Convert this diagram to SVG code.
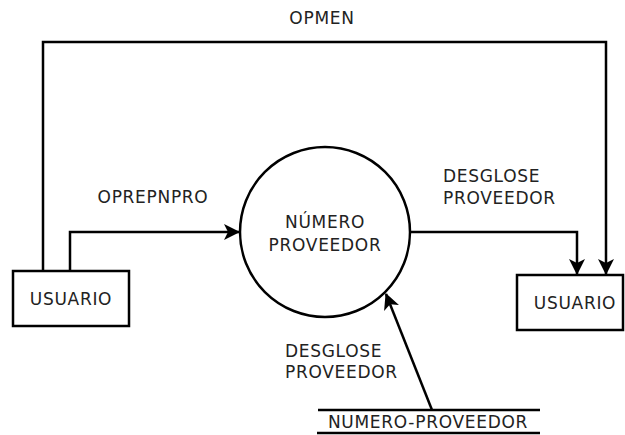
<svg xmlns="http://www.w3.org/2000/svg" width="625" height="435" viewBox="0 0 625 435">
  <style>
    .box { fill: #fff; stroke: #000; stroke-width: 2.5; }
    .flow { fill: none; stroke: #000; stroke-width: 2.5; }
    .lbl { font-family: "DejaVu Sans", Verdana, sans-serif; font-size: 17px; letter-spacing: 0.7px; fill: #222; }
    .mid { text-anchor: middle; }
  </style>
  <defs>
    <marker id="arrow" viewBox="0 0 16 16" refX="15" refY="8" markerWidth="16" markerHeight="16" markerUnits="userSpaceOnUse" orient="auto">
      <path d="M0,0 L16,8 L0,16 L4,8 z" fill="#000"/>
    </marker>
  </defs>
  <rect width="625" height="435" fill="#fff"/>

  <g id="connectors">
    <path class="flow" d="M43,271 V42 H606 V274" marker-end="url(#arrow)"/>
    <path class="flow" d="M70,271 V232 H239" marker-end="url(#arrow)"/>
    <path class="flow" d="M410,232 H577 V274" marker-end="url(#arrow)"/>
    <path class="flow" d="M432,410 L386,294" marker-end="url(#arrow)"/>
    <text class="lbl mid" x="322" y="24">OPMEN</text>
    <text class="lbl mid" x="153" y="203">OPREPNPRO</text>
    <text class="lbl" x="443" y="182">DESGLOSE</text>
    <text class="lbl" x="443" y="204">PROVEEDOR</text>
    <text class="lbl" x="285" y="357">DESGLOSE</text>
    <text class="lbl" x="285" y="378">PROVEEDOR</text>
  </g>

  <g id="usuario-left">
    <rect class="box" x="13" y="271" width="116" height="55"/>
    <text class="lbl mid" x="71" y="305">USUARIO</text>
  </g>

  <g id="numero-proveedor">
    <circle class="box" cx="325" cy="232" r="85"/>
    <text class="lbl mid" x="325" y="228">NÚMERO</text>
    <text class="lbl mid" x="325" y="251">PROVEEDOR</text>
  </g>

  <g id="usuario-right">
    <rect class="box" x="517" y="275" width="106" height="55"/>
    <text class="lbl mid" x="575" y="309">USUARIO</text>
  </g>

  <g id="store-numero-proveedor">
    <line class="flow" x1="318" y1="410" x2="540" y2="410"/>
    <line class="flow" x1="317" y1="433" x2="540" y2="433"/>
    <text class="lbl mid" x="428" y="428">NUMERO-PROVEEDOR</text>
  </g>
</svg>
